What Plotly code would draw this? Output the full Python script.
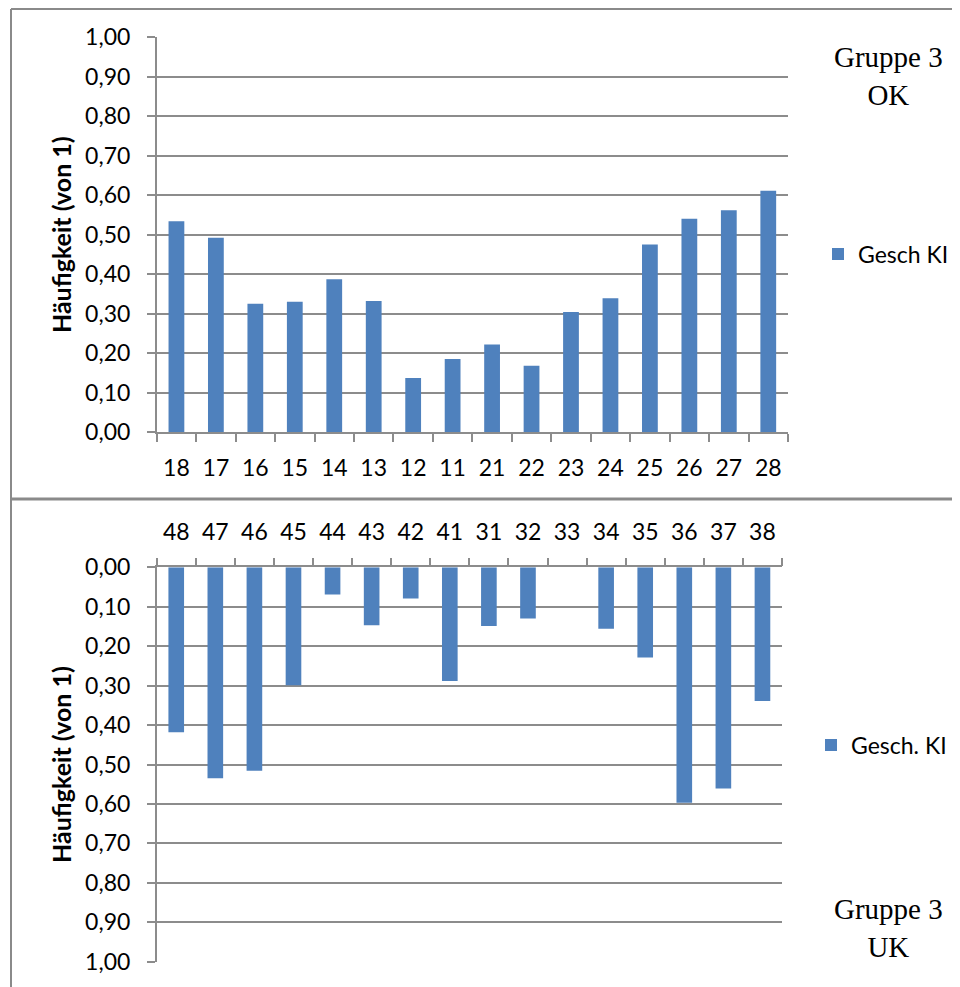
import plotly.graph_objects as go

# ---- data ----
top_categories = ["18", "17", "16", "15", "14", "13", "12", "11",
                  "21", "22", "23", "24", "25", "26", "27", "28"]
top_values = [0.534, 0.492, 0.325, 0.330, 0.387, 0.332, 0.137, 0.185,
              0.222, 0.168, 0.304, 0.339, 0.475, 0.540, 0.562, 0.611]

bottom_categories = ["48", "47", "46", "45", "44", "43", "42", "41",
                     "31", "32", "33", "34", "35", "36", "37", "38"]
bottom_values = [0.418, 0.535, 0.516, 0.299, 0.069, 0.147, 0.079, 0.288,
                 0.149, 0.130, 0.0, 0.156, 0.229, 0.597, 0.561, 0.339]

y_ticks = [round(i * 0.1, 1) for i in range(11)]

top_series_name = "Gesch KI"
bottom_series_name = "Gesch. KI"
y_title = "Häufigkeit (von 1)"
top_label = "Gruppe 3<br>OK"
bottom_label = "Gruppe 3<br>UK"

# ---- layout helpers (page has an 8px body margin) ----
OFF = 8
W, H = 960 - OFF, 987 - OFF
def px(x):
    return (x - OFF) / W
def py(y):
    return 1 - (y - OFF) / H

BAR = "#4F81BD"
GRID = "#8C8C8C"
FONT = "Lato, 'Open Sans', sans-serif"

fig = go.Figure()
fig.add_trace(go.Bar(x=top_categories, y=top_values, name=top_series_name,
                     marker=dict(color=BAR, line=dict(width=0)),
                     xaxis="x", yaxis="y", legend="legend"))
fig.add_trace(go.Bar(x=bottom_categories, y=bottom_values, name=bottom_series_name,
                     marker=dict(color=BAR, line=dict(width=0)),
                     xaxis="x2", yaxis="y2", legend="legend2"))

common_x = dict(type="category", showline=True, linecolor=GRID, linewidth=1.5,
                ticks="outside", ticklen=8, tickcolor=GRID, tickwidth=1.5,
                tickson="boundaries", showgrid=False, zeroline=False,
                automargin=False,
                tickfont=dict(family=FONT, size=23, color="#000"))
common_y = dict(showline=True, linecolor=GRID, linewidth=1.5,
                ticks="outside", ticklen=8, tickcolor=GRID, tickwidth=1.5,
                showgrid=True, gridcolor=GRID, gridwidth=1.5, zeroline=False,
                automargin=False,
                tickvals=y_ticks, tickformat=".2f",
                tickfont=dict(family=FONT, size=23, color="#000"),
                ticklabelstandoff=12,
                title=dict(text=y_title, font=dict(family=FONT, size=25, color="#000",
                                                   weight="bold"), standoff=6))

fig.update_layout(
    width=W, height=H,
    margin=dict(l=0, r=0, t=0, b=0, autoexpand=False),
    paper_bgcolor="white", plot_bgcolor="white",
    separators=",.",
    bargap=0.6,
    xaxis=dict(domain=[px(156.7), px(788)], anchor="y", ticklabelstandoff=15, **common_x),
    yaxis=dict(domain=[py(432), py(37.3)], anchor="x", range=[0, 1], **common_y),
    xaxis2=dict(domain=[px(156.7), px(782)], anchor="y2", side="top", ticklabelstandoff=16, **common_x),
    yaxis2=dict(domain=[py(961.7), py(567.3)], anchor="x2", range=[1, 0], **common_y),
    legend=dict(x=px(818), y=py(254), xanchor="left", yanchor="middle",
                font=dict(family=FONT, size=23, color="#000"), bgcolor="rgba(0,0,0,0)"),
    legend2=dict(x=px(811), y=py(745), xanchor="left", yanchor="middle",
                 font=dict(family=FONT, size=23, color="#000"), bgcolor="rgba(0,0,0,0)"),
    showlegend=True,
)

fig.add_annotation(text=top_label, x=px(888), y=py(76), xref="paper", yref="paper",
                   xanchor="center", yanchor="middle",
                   showarrow=False, align="center",
                   font=dict(family="Liberation Serif, Times New Roman, serif", size=29, color="#000"))
fig.add_annotation(text=bottom_label, x=px(888), y=py(928), xref="paper", yref="paper",
                   xanchor="center", yanchor="middle",
                   showarrow=False, align="center",
                   font=dict(family="Liberation Serif, Times New Roman, serif", size=29, color="#000"))

# panel borders
border = dict(color="#8A8A8A", width=2)
fig.add_shape(type="line", xref="paper", yref="paper", x0=px(11), x1=1, y0=py(9), y1=py(9), line=border)
fig.add_shape(type="line", xref="paper", yref="paper", x0=px(11), x1=px(11), y0=py(9), y1=0, line=border)
fig.add_shape(type="line", xref="paper", yref="paper", x0=px(11), x1=1, y0=py(499), y1=py(499),
              line=dict(color="#8A8A8A", width=3))

fig.write_html("out.html")
